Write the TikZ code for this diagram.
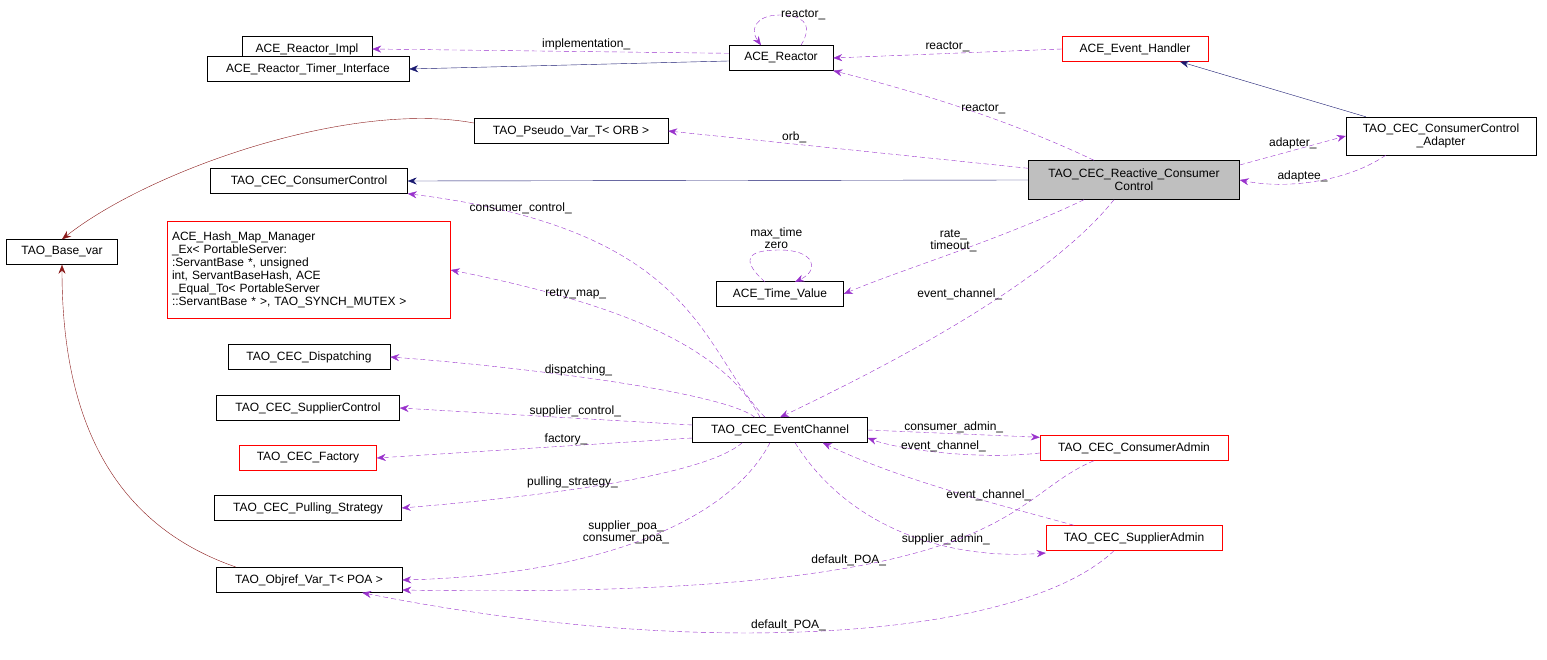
\documentclass[tikz,border=0pt]{standalone}
\usepackage{fontspec}
\setmainfont{Liberation Sans}
\usetikzlibrary{arrows.meta,calc}
\begin{document}
\begin{tikzpicture}[x=1pt,y=-1pt,
 box/.style={draw=black,fill=white,inner sep=0pt,minimum height=25pt,font=\fontsize{12}{13}\selectfont,align=center},
 rbox/.style={box,draw=red},
 use/.style={draw={rgb,255:red,153;green,50;blue,204},dashed,dash pattern=on 5pt off 3pt,-{Stealth[length=9pt,width=7pt]},fill=none},
 inh/.style={draw={rgb,255:red,25;green,25;blue,112},-{Stealth[length=9pt,width=7pt,fill={rgb,255:red,25;green,25;blue,112}]}},
 tpl/.style={draw={rgb,255:red,139;green,26;blue,26},-{Stealth[length=9pt,width=7pt]}},
 lb/.style={font=\fontsize{12}{12}\selectfont,align=center,inner sep=1pt}]
\useasboundingbox (0,0) rectangle (1547,660);
\node[box,minimum width=130pt] (impl) at (307,49) {ACE\_Reactor\_Impl};
\node[box,minimum width=202pt] (timer) at (308,69) {ACE\_Reactor\_Timer\_Interface};
\node[box,minimum width=104pt] (reactor) at (781,58) {ACE\_Reactor};
\node[rbox,minimum width=146pt] (eh) at (1135,49) {ACE\_Event\_Handler};
\node[box,minimum width=194pt] (pseudo) at (571,131) {TAO\_Pseudo\_Var\_T\textless{} ORB \textgreater};
\node[box,minimum width=190pt,minimum height=38pt] (adapter) at (1441,136) {TAO\_CEC\_ConsumerControl\\\_Adapter};
\node[box,fill={rgb,255:red,191;green,191;blue,191},minimum width=211pt,minimum height=39pt] (rcc) at (1134,180) {TAO\_CEC\_Reactive\_Consumer\\Control};
\node[box,minimum width=197pt] (cc) at (309,181) {TAO\_CEC\_ConsumerControl};
\node[box,minimum width=111pt] (base) at (62,252) {TAO\_Base\_var};
\node[rbox,minimum width=283pt,minimum height=97pt,text width=274pt,align=left] (hash) at (309,270) {ACE\_Hash\_Map\_Manager\\\_Ex\textless{} PortableServer:\\:ServantBase *, unsigned\\ int, ServantBaseHash, ACE\\\_Equal\_To\textless{} PortableServer\\::ServantBase * \textgreater, TAO\_SYNCH\_MUTEX \textgreater};
\node[box,minimum width=127pt] (tv) at (780,294) {ACE\_Time\_Value};
\node[box,minimum width=162pt] (disp) at (309,357) {TAO\_CEC\_Dispatching};
\node[box,minimum width=183pt] (sc) at (308,408) {TAO\_CEC\_SupplierControl};
\node[box,minimum width=175pt] (ec) at (780,430) {TAO\_CEC\_EventChannel};
\node[rbox,minimum width=137pt] (fac) at (308,458) {TAO\_CEC\_Factory};
\node[rbox,minimum width=188pt] (ca) at (1134,448) {TAO\_CEC\_ConsumerAdmin};
\node[box,minimum width=187pt] (ps) at (308,508) {TAO\_CEC\_Pulling\_Strategy};
\node[rbox,minimum width=176pt] (sa) at (1134,538) {TAO\_CEC\_SupplierAdmin};
\node[box,minimum width=186pt] (obj) at (309,580) {TAO\_Objref\_Var\_T\textless{} POA \textgreater};

\draw[use] ($(reactor.north west)+(0,8)$) -- node[lb,above,pos=0.4] {implementation\_} (impl.east);
\draw[use] ($(reactor.north)+(20,0)$) .. controls (815,22) and (800,15) .. node[lb,above,pos=0.5] {reactor\_} (780,15) .. controls (755,15) and (750,30) .. ($(reactor.north)+(-20,0)$);
\draw[inh] ($(reactor.west)+(0,3)$) -- (timer.east);
\draw[use] (eh.west) -- node[lb,above] {reactor\_} (reactor.east);
\draw[use] ($(rcc.north)+(-40,0)$) .. controls (1030,130) and (950,100) .. node[lb,above,pos=0.5] {reactor\_} (reactor.south east);
\draw[use] ($(rcc.north west)+(0,8)$) -- node[lb,above,pos=0.65] {orb\_} (pseudo.east);
\draw[inh] ($(adapter.north west)+(20,0)$) -- ($(eh.south)+(45,0)$);
\draw[use] ($(rcc.east)+(0,-15)$) -- node[lb,above] {adapter\_} (adapter.west);
\draw[use] ($(adapter.south west)+(40,0)$) .. controls (1350,180) and (1290,190) .. node[lb,above,pos=0.6] {adaptee\_} (rcc.east);
\draw[inh] (rcc.west) -- (cc.east);
\draw[tpl] ($(pseudo.west)+(0,-8)$) .. controls (350,100) and (150,170) .. (base.north);
\draw[tpl] ($(obj.west)+(20,-13)$) .. controls (100,520) and (62,400) .. (base.south);
\draw[use] ($(rcc.south)+(-50,0)$) .. controls (1000,240) and (900,270) .. node[lb,above,pos=0.5] {rate\_\\timeout\_} (tv.east);
\draw[use] (765,282) .. controls (735,255) and (755,250) .. node[lb,above,pos=0.95] {max\_time\\zero} (780,250) .. controls (815,250) and (820,270) .. (795,282);
\draw[use] ($(rcc.south)+(-20,0)$) .. controls (1050,280) and (900,360) .. node[lb,left,pos=0.4] {event\_channel\_} (ec.north);
\draw[use] ($(ec.north)+(-15,0)$) .. controls (700,350) and (700,230) .. node[lb,above,pos=0.85] {consumer\_control\_} (cc.south east);
\draw[use] ($(ec.north)+(-20,0)$) .. controls (720,340) and (600,300) .. node[lb,above,pos=0.7] {retry\_map\_} (hash.east);
\draw[use] ($(ec.north)+(-25,0)$) .. controls (720,390) and (500,365) .. node[lb,above,pos=0.55] {dispatching\_} (disp.east);
\draw[use] ($(ec.west)+(0,-5)$) -- node[lb,above,pos=0.4] {supplier\_control\_} (sc.east);
\draw[use] ($(ec.west)+(0,8)$) -- node[lb,above,pos=0.4] {factory\_} (fac.east);
\draw[use] ($(ec.south west)+(50,0)$) .. controls (700,480) and (500,500) .. node[lb,above,pos=0.55] {pulling\_strategy\_} (ps.east);
\draw[use] ($(ec.south)+(-10,0)$) .. controls (730,520) and (600,575) .. node[lb,above,pos=0.55] {supplier\_poa\_\\consumer\_poa\_} (obj.east);
\draw[use] (ec.east) -- node[lb,above] {consumer\_admin\_} ($(ca.north west)+(0,2)$);
\draw[use] ($(ca.west)+(0,5)$) .. controls (980,460) and (900,450) .. node[lb,above,pos=0.5] {event\_channel\_} ($(ec.east)+(0,8)$);
\draw[use] ($(sa.north)+(-60,0)$) .. controls (1000,505) and (900,480) .. node[lb,above,pos=0.35] {event\_channel\_} ($(ec.south east)+(-45,0)$);
\draw[use] ($(ec.south)+(15,0)$) .. controls (850,530) and (950,560) .. node[lb,above,pos=0.65] {supplier\_admin\_} ($(sa.west)+(0,15)$);
\draw[use] ($(ca.south)+(-40,0)$) .. controls (1000,500) and (1020,600) .. node[lb,above,pos=0.65] {default\_POA\_} ($(obj.east)+(0,10)$);
\draw[use] ($(sa.south)+(-20,0)$) .. controls (1020,640) and (700,660) .. node[lb,above,pos=0.55] {default\_POA\_} ($(obj.south east)+(-40,0)$);
\end{tikzpicture}
\end{document}
